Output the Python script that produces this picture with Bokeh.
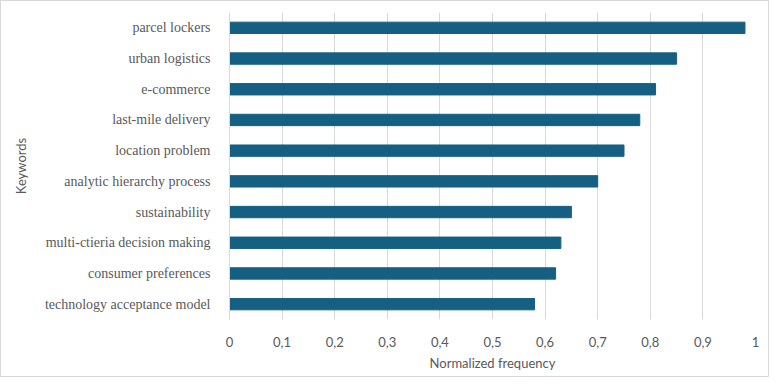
from bokeh.plotting import figure
from bokeh.models import FactorRange, FixedTicker, Range1d
from bokeh.embed import file_html
from bokeh.resources import INLINE

keywords = [
    "parcel lockers",
    "urban logistics",
    "e-commerce",
    "last-mile delivery",
    "location problem",
    "analytic hierarchy process",
    "sustainability",
    "multi-ctieria decision making",
    "consumer preferences",
    "technology acceptance model",
]
frequency = [0.98, 0.85, 0.81, 0.78, 0.75, 0.70, 0.65, 0.63, 0.62, 0.58]
tick_values = [0, 0.1, 0.2, 0.3, 0.4, 0.5, 0.6, 0.7, 0.8, 0.9, 1.0]
tick_labels = ["0", "0,1", "0,2", "0,3", "0,4", "0,5", "0,6", "0,7", "0,8", "0,9", "1"]

p = figure(
    width=769, height=377,
    y_range=FactorRange(factors=list(reversed(keywords))),
    x_range=Range1d(0, 1),
    output_backend="svg", toolbar_location=None,
    min_border_left=228, min_border_right=15, min_border_top=11, min_border_bottom=59,
)
p.hbar(y=keywords, right=frequency, left=0, height=0.37, color="#156082")

p.outline_line_color = None
p.background_fill_color = "white"
p.border_fill_color = "white"

p.xgrid.ticker = FixedTicker(ticks=tick_values)
p.xgrid.grid_line_color = "#d9d9d9"
p.ygrid.grid_line_color = None

xa = p.xaxis[0]
xa.ticker = FixedTicker(ticks=tick_values)
xa.major_label_overrides = {v: l for v, l in zip(tick_values, tick_labels)}
xa.axis_line_color = None
xa.major_tick_line_color = None
xa.minor_tick_line_color = None
xa.major_label_standoff = 11
xa.major_label_text_font = "Lato"
xa.major_label_text_font_size = "13px"
xa.major_label_text_color = "#595959"
xa.axis_label = "Normalized frequency"
xa.axis_label_text_font = "Lato"
xa.axis_label_text_font_size = "13px"
xa.axis_label_text_font_style = "normal"
xa.axis_label_text_color = "#595959"
xa.axis_label_standoff = 5

ya = p.yaxis[0]
ya.axis_line_color = "#d9d9d9"
ya.major_tick_line_color = None
ya.minor_tick_line_color = None
ya.major_label_standoff = 13
ya.major_label_text_font = "Liberation Serif"
ya.major_label_text_font_size = "14px"
ya.major_label_text_color = "#595959"
ya.axis_label = "Keywords"
ya.axis_label_text_font = "Lato"
ya.axis_label_text_font_size = "13px"
ya.axis_label_text_font_style = "normal"
ya.axis_label_text_color = "#595959"
ya.axis_label_standoff = 13

p.styles = {"border": "1px solid #d9d9d9", "box-sizing": "border-box"}

open("out.html", "w").write(file_html(p, INLINE))
